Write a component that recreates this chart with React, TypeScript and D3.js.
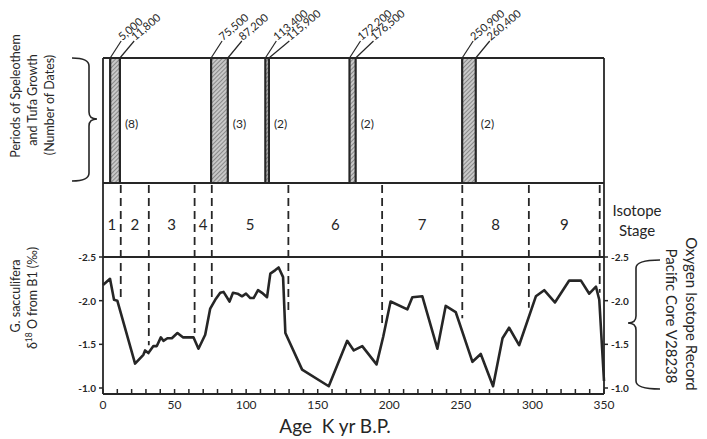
import React from 'react';
import * as d3 from 'd3';

// periods of speleothem / tufa growth (kyr B.P.)
const growthStart = [5.0, 75.5, 113.4, 172.2, 250.9];
const growthEnd = [11.8, 87.2, 115.9, 176.5, 260.4];
const startLabels = ['5,000', '75,500', '113,400', '172,200', '250,900'];
const endLabels = ['11,800', '87,200', '115,900', '176,500', '260,400'];
const dateCounts = ['(8)', '(3)', '(2)', '(2)', '(2)'];

// isotope stage boundaries (kyr) and where each dashed line stops (per mil)
const stageBounds = [12.4, 32, 64, 76, 129.5, 195, 251, 297.5, 347];
const stageDashEnd = [-2.03, -1.49, -1.63, -2.03, -1.86, -1.69, -1.8, -1.92, -2.09];
const stageNames = ['1', '2', '3', '4', '5', '6', '7', '8', '9'];

// G. sacculifera d18O, core V28-238
const ageKyr = [
  0, 4.9, 7.7, 10, 22.4, 28.2, 29.4, 31.7, 35.2, 37.6, 40.4, 42.2, 45, 48.1, 52, 55.8,
  63.2, 66.7, 71.4, 74.9, 78.4, 81.9, 84.2, 88.4, 90.8, 94, 97.1, 99.9, 102.9, 105.2,
  108.3, 111.1, 114.6, 116.9, 120.4, 122.7, 125.8, 127.4, 139.1, 157.7, 170.6, 175.2,
  181.1, 191.1, 195.8, 200.9, 212.6, 216.1, 223.1, 233.6, 239.4, 246.4, 258.1, 263.9,
  272.5, 279.1, 283.7, 290.7, 302.4, 308.2, 315.7, 325.7, 333.9, 339.7, 344.4, 346.7, 350,
];
const d18O = [
  -2.18, -2.25, -2.01, -2.0, -1.28, -1.38, -1.43, -1.4, -1.48, -1.48, -1.58, -1.54, -1.57,
  -1.57, -1.63, -1.58, -1.58, -1.45, -1.61, -1.91, -2.01, -2.09, -2.1, -1.99, -2.09, -2.08,
  -2.05, -2.08, -2.03, -2.03, -2.12, -2.09, -2.04, -2.31, -2.35, -2.38, -2.27, -1.63, -1.21,
  -1.02, -1.54, -1.43, -1.48, -1.27, -1.59, -1.99, -1.9, -2.04, -2.05, -1.45, -1.94, -1.87,
  -1.3, -1.39, -1.02, -1.57, -1.69, -1.49, -2.05, -2.12, -1.98, -2.23, -2.23, -2.08, -2.16,
  -2.01, -1.08,
];

const yTicks = [-2.5, -2.0, -1.5, -1.0];
const yTickLabels = ['-2.5', '-2.0', '-1.5', '-1.0'];
const xLabelTicks = [0, 50, 100, 150, 200, 250, 300, 350];

const W = 707;
const H = 439;
const boxTop = 58;
const boxBottom = 183;
const axisBottom = 394;
const ink = '#262626';
const font = "Lato, 'DejaVu Sans', sans-serif";

// vertical curly brace, tip pointing toward xTip
const brace = (xArm: number, xSpine: number, xTip: number, y0: number, y1: number, yMid: number) => {
  const r = 8;
  const r2 = 7;
  return `M${xArm},${y0} Q${xSpine},${y0} ${xSpine},${y0 + r}
    L${xSpine},${yMid - r2} Q${xSpine},${yMid} ${xTip},${yMid}
    Q${xSpine},${yMid} ${xSpine},${yMid + r2}
    L${xSpine},${y1 - r} Q${xSpine},${y1} ${xArm},${y1}`;
};

const App: React.FC = () => {
  const x = d3.scaleLinear().domain([0, 350]).range([103, 604]);
  const y = d3.scaleLinear().domain([-2.5, -1.0]).range([257, 388]);

  const line = d3
    .line<number>()
    .x((_, i) => x(ageKyr[i]))
    .y((d) => y(d));

  const stageEdges = [0, ...stageBounds];
  const stageMid = stageNames.map((_, i) => (stageEdges[i] + (stageBounds[i] ?? 350)) / 2);

  const minorTicks = d3.range(0, 351, 10);

  // leader line ends for the date labels, spread so neighbours don't collide
  const leaderStart = growthStart.map((a) => x(a) + 11);
  const leaderEnd = growthEnd.map((a, i) => Math.max(x(a) + 14, leaderStart[i] + 13));
  const leaderY = 41;

  return (
    <div style={{ position: 'absolute', left: 0, top: 0 }}>
      <svg width={W} height={H} style={{ display: 'block', background: '#fff' }} fontFamily={font}>
        <defs>
          <pattern id="hatch" width="3" height="3" patternUnits="userSpaceOnUse" patternTransform="rotate(45)">
            <rect width="3" height="3" fill="#c8c8c8" />
            <line x1="0" y1="0" x2="0" y2="3" stroke="#5e5e5e" strokeWidth="1.2" />
          </pattern>
        </defs>

        {/* growth periods */}
        {growthStart.map((a, i) => (
          <g key={`g${i}`}>
            <rect x={x(a)} y={boxTop} width={x(growthEnd[i]) - x(a)} height={boxBottom - boxTop} fill="url(#hatch)" />
            <line x1={x(a)} x2={x(a)} y1={boxTop} y2={boxBottom} stroke={ink} strokeWidth={2.2} />
            <line x1={x(growthEnd[i])} x2={x(growthEnd[i])} y1={boxTop} y2={boxBottom} stroke={ink} strokeWidth={2.2} />
            <text x={x(growthEnd[i]) + 5} y={123} fontSize={12} dominantBaseline="central" fill={ink}>
              {dateCounts[i]}
            </text>
            <line x1={x(a)} y1={boxTop} x2={leaderStart[i]} y2={leaderY} stroke={ink} strokeWidth={1.2} />
            <line x1={x(growthEnd[i])} y1={boxTop} x2={leaderEnd[i]} y2={leaderY} stroke={ink} strokeWidth={1.2} />
            <text transform={`translate(${leaderStart[i] + 1},${leaderY}) rotate(-40)`} fontSize={11} fill={ink}>
              {startLabels[i]}
            </text>
            <text transform={`translate(${leaderEnd[i] + 1},${leaderY}) rotate(-40)`} fontSize={11} fill={ink}>
              {endLabels[i]}
            </text>
          </g>
        ))}

        {/* frame */}
        <g stroke={ink} strokeWidth={1.8} fill="none">
          <line x1={x(0)} x2={x(350)} y1={boxTop} y2={boxTop} />
          <line x1={x(0)} x2={x(350)} y1={boxBottom} y2={boxBottom} />
          <line x1={x(0)} x2={x(350)} y1={y(-2.5)} y2={y(-2.5)} />
          <line x1={x(0)} x2={x(350)} y1={axisBottom} y2={axisBottom} />
          <line x1={x(0)} x2={x(0)} y1={boxTop} y2={axisBottom} />
          <line x1={x(350)} x2={x(350)} y1={boxTop} y2={axisBottom} />
        </g>

        {/* stage boundaries */}
        {stageBounds.map((b, i) => (
          <line
            key={`s${i}`}
            x1={x(b)}
            x2={x(b)}
            y1={boxBottom + 2}
            y2={y(stageDashEnd[i])}
            stroke={ink}
            strokeWidth={1.8}
            strokeDasharray="8,5"
          />
        ))}
        {stageNames.map((s, i) => (
          <text key={`n${i}`} x={x(stageMid[i])} y={224} fontSize={15} textAnchor="middle" dominantBaseline="central" fill={ink}>
            {s}
          </text>
        ))}

        {/* y ticks both sides */}
        {yTicks.map((t, i) => (
          <g key={`y${i}`}>
            <line x1={x(0) - 4} x2={x(0)} y1={y(t)} y2={y(t)} stroke={ink} strokeWidth={1.5} />
            <line x1={x(350)} x2={x(350) + 4} y1={y(t)} y2={y(t)} stroke={ink} strokeWidth={1.5} />
            <text x={96} y={y(t)} fontSize={10} fontWeight={700} textAnchor="end" dominantBaseline="central" fill={ink}>
              {yTickLabels[i]}
            </text>
            <text x={611} y={y(t)} fontSize={10} fontWeight={700} textAnchor="start" dominantBaseline="central" fill={ink}>
              {yTickLabels[i]}
            </text>
          </g>
        ))}

        {/* x ticks */}
        {minorTicks.map((t) => (
          <line key={`xt${t}`} x1={x(t)} x2={x(t)} y1={axisBottom} y2={axisBottom - 5} stroke={ink} strokeWidth={1.5} />
        ))}
        {xLabelTicks.map((t) => (
          <text key={`xl${t}`} x={x(t)} y={409} fontSize={12} textAnchor="middle" fill={ink}>
            {t}
          </text>
        ))}
        <text x={335} y={433} fontSize={19} textAnchor="middle" fill={ink} style={{ whiteSpace: 'pre' }}>
          {'Age  K yr B.P.'}
        </text>

        {/* isotope curve */}
        <path d={line(d18O) ?? ''} fill="none" stroke={ink} strokeWidth={2.6} strokeLinejoin="round" />

        {/* left labels */}
        <g fill={ink} fontSize={12.5}>
          <text transform="translate(20,96) rotate(-90)" textAnchor="middle">Periods of Speleothem</text>
          <text transform="translate(37,100) rotate(-90)" textAnchor="middle">and Tufa Growth</text>
          <text transform="translate(54,105) rotate(-90)" textAnchor="middle">(Number of Dates)</text>
          <text transform="translate(20,296) rotate(-90)" textAnchor="middle">G. sacculifera</text>
          <text transform="translate(37,298) rotate(-90)" textAnchor="middle">
            δ<tspan fontSize={8.5} dy={-5}>18</tspan>
            <tspan dy={5}> O from B1 (‰)</tspan>
          </text>
        </g>
        <path d={brace(72, 89, 97, 58, 181, 119)} fill="none" stroke={ink} strokeWidth={1.6} />

        {/* right labels */}
        <g fill={ink} fontSize={15}>
          <text x={637} y={216} textAnchor="middle">Isotope</text>
          <text x={637} y={236} textAnchor="middle">Stage</text>
          <text transform="translate(686,314) rotate(90)" textAnchor="middle">Oxygen Isotope Record</text>
          <text transform="translate(666,316) rotate(90)" textAnchor="middle">Pacific Core V28238</text>
        </g>
        <path d={brace(660, 636, 628, 260, 389, 323)} fill="none" stroke={ink} strokeWidth={1.6} />
      </svg>
    </div>
  );
};

export default App;
